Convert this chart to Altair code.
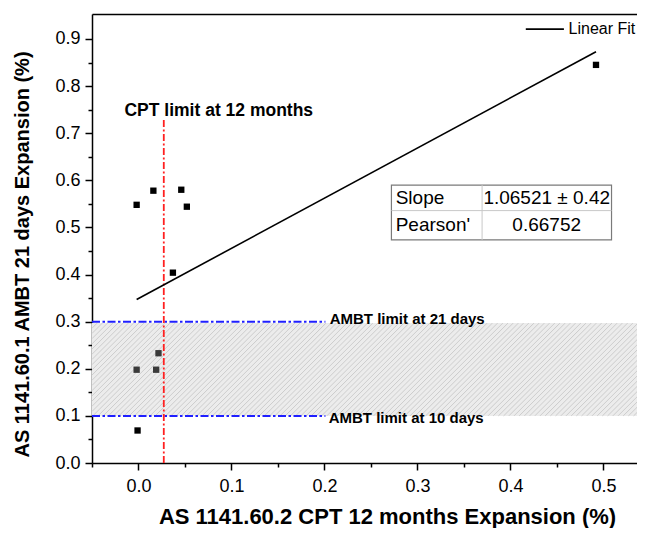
import altair as alt
import pandas as pd

# ---- data ----
cpt_x = [-0.002, 0.016, 0.046, 0.052, 0.037, 0.0215, -0.002, 0.019, -0.001, 0.492]
ambt_y = [0.548, 0.578, 0.580, 0.544, 0.404, 0.233, 0.198, 0.198, 0.069, 0.845]

fit_x = [-0.002, 0.492]
fit_y = [0.347, 0.873]

ambt_limits = [0.3, 0.1]
ambt_labels = ["AMBT limit at 21 days", "AMBT limit at 10 days"]
band = [0.1, 0.297]
cpt_limit = 0.0272
cpt_label = "CPT limit at 12 months"

table_rows = ["Slope", "Pearson'"]
table_vals = ["1.06521 \u00b1 0.42", "0.66752"]

x_ticks = [0.0, 0.1, 0.2, 0.3, 0.4, 0.5]
x_minor = [-0.05, 0.05, 0.15, 0.25, 0.35, 0.45]
y_ticks = [0.0, 0.1, 0.2, 0.3, 0.4, 0.5, 0.6, 0.7, 0.8, 0.9]
y_minor = [0.05, 0.15, 0.25, 0.35, 0.45, 0.55, 0.65, 0.75, 0.85]

# ---- layout ----
W, H = 553, 449
XD = [-0.05, 0.5447]
YD = [0.0, 0.953]
FONT = "Liberation Sans"

xs = alt.Scale(domain=XD, nice=False, zero=False)
ys = alt.Scale(domain=YD, nice=False, zero=False)
NOAX = None

# ---- frames ----
pts = pd.DataFrame({"x": cpt_x, "y": ambt_y})
pts["shade"] = ["#3a3a3a" if band[0] <= v <= band[1] else "#000000" for v in ambt_y]

fit = pd.DataFrame({"x": fit_x, "y": fit_y})

# hatch lines (decoration of the limit band), computed in pixel space so they are 45 degrees
kx = W / (XD[1] - XD[0])
ky = H / (YD[1] - YD[0])
bw = W
bh = (band[1] - band[0]) * ky
step = 5.2
rows = []
c = -bh
while c < bw:
    xa = max(0.0, c)
    xb = min(bw, c + bh)
    if xb > xa:
        rows.append({
            "x": XD[0] + xa / kx, "y": band[0] + (xa - c) / ky,
            "x2": XD[0] + xb / kx, "y2": band[0] + (xb - c) / ky,
        })
    c += step
hatch = pd.DataFrame(rows)

band_df = pd.DataFrame({"x": [XD[0]], "x2": [XD[1]], "y": [band[0]], "y2": [band[1]]})

limits_df = pd.DataFrame({"y": ambt_limits, "x": [XD[0]] * 2, "x2": [0.201] * 2,
                          "label": ambt_labels, "ly": [0.3057, 0.0949], "lx": [0.2056, 0.2045]})

cpt_df = pd.DataFrame({"x": [cpt_limit], "y": [0.0], "y2": [0.732]})
cpt_txt = pd.DataFrame({"x": [-0.0151], "y": [0.747], "label": [cpt_label]})

leg_line = pd.DataFrame({"x": [0.4165], "x2": [0.4575], "y": [0.921]})
leg_txt = pd.DataFrame({"x": [0.4625], "y": [0.921], "label": ["Linear Fit"]})

tab_box = pd.DataFrame({"x": [0.272], "x2": [0.5087], "y": [0.4735], "y2": [0.590]})
tab_h = pd.DataFrame({"x": [0.272], "x2": [0.5087], "y": [0.5357]})
tab_v = pd.DataFrame({"x": [0.3695], "y": [0.4735], "y2": [0.590]})
tab_txt = pd.DataFrame({
    "x": [0.2766, 0.2766, 0.439, 0.439],
    "y": [0.5629, 0.5046, 0.5629, 0.5046],
    "label": table_rows + table_vals,
    "align": ["left", "left", "center", "center"],
})

# ---- layers ----
band_layer = alt.Chart(band_df).mark_rect(fill="#ececec").encode(
    x=alt.X("x:Q", scale=xs, axis=NOAX), x2="x2", y=alt.Y("y:Q", scale=ys, axis=NOAX), y2="y2")

hatch_layer = alt.Chart(hatch).mark_rule(color="#c2c2c2", strokeWidth=0.75).encode(
    x=alt.X("x:Q", scale=xs, axis=NOAX), x2="x2", y=alt.Y("y:Q", scale=ys, axis=NOAX), y2="y2")

blue_layer = alt.Chart(limits_df).mark_rule(color="#1f1fff", strokeWidth=2,
                                            strokeDash=[8, 2.5, 2.5, 2.5]).encode(
    x=alt.X("x:Q", scale=xs, axis=NOAX), x2="x2", y=alt.Y("y:Q", scale=ys, axis=NOAX))

blue_txt = alt.Chart(limits_df).mark_text(align="left", baseline="middle", font=FONT,
                                          fontSize=15, fontWeight="bold", color="black").encode(
    x=alt.X("lx:Q", scale=xs, axis=NOAX), y=alt.Y("ly:Q", scale=ys, axis=NOAX), text="label")

red_layer = alt.Chart(cpt_df).mark_rule(color="#ff2020", strokeWidth=1.8,
                                        strokeDash=[7, 2.5, 2, 2.5]).encode(
    x=alt.X("x:Q", scale=xs, axis=NOAX), y=alt.Y("y:Q", scale=ys, axis=NOAX), y2="y2")

red_txt = alt.Chart(cpt_txt).mark_text(align="left", baseline="middle", font=FONT,
                                       fontSize=17.5, fontWeight="bold", color="black").encode(
    x=alt.X("x:Q", scale=xs, axis=NOAX), y=alt.Y("y:Q", scale=ys, axis=NOAX), text="label")

fit_layer = alt.Chart(fit).mark_line(color="black", strokeWidth=1.6).encode(
    x=alt.X("x:Q", scale=xs, axis=NOAX), y=alt.Y("y:Q", scale=ys, axis=NOAX))

# main points with main axes
points = alt.Chart(pts).mark_square(size=40, opacity=1).encode(
    x=alt.X("x:Q", scale=xs, axis=alt.Axis(
        orient="bottom", values=x_ticks, format=".1f", grid=False,
        labelFont=FONT, labelFontSize=18, labelColor="black", labelPadding=7,
        labelFlush=False, labelOverlap=False,
        tickSize=7, tickColor="black", tickWidth=1.5,
        domainColor="black", domainWidth=1.5,
        title="AS 1141.60.2 CPT 12 months Expansion (%)", titleFont=FONT,
        titleFontSize=22, titleFontWeight="bold", titleColor="black",
        titleX=295, titleY=53, titleAlign="center", titleBaseline="middle")),
    y=alt.Y("y:Q", scale=ys, axis=alt.Axis(
        orient="left", values=y_ticks, format=".1f", grid=False,
        labelFont=FONT, labelFontSize=18, labelColor="black", labelPadding=5,
        labelFlush=False, labelOverlap=False,
        tickSize=7, tickColor="black", tickWidth=1.5,
        domainColor="black", domainWidth=1.5,
        title="AS 1141.60.1 AMBT 21 days Expansion (%)", titleFont=FONT,
        titleFontSize=20, titleFontWeight="bold", titleColor="black",
        titleX=-70, titleY=240, titleAlign="center", titleBaseline="middle", titleAngle=270)),
    color=alt.Color("shade:N", scale=None),
)

# minor ticks
minor = alt.Chart(pts).mark_point(opacity=0).encode(
    x=alt.X("x:Q", scale=xs, axis=alt.Axis(
        orient="bottom", values=x_minor, labels=False, grid=False, domain=False,
        tickSize=4, tickColor="black", tickWidth=1.5, title=None)),
    y=alt.Y("y:Q", scale=ys, axis=alt.Axis(
        orient="left", values=y_minor, labels=False, grid=False, domain=False,
        tickSize=4, tickColor="black", tickWidth=1.5, title=None)),
)

# top frame line
top = alt.Chart(pts).mark_point(opacity=0).encode(
    x=alt.X("x:Q", scale=xs, axis=alt.Axis(
        orient="top", labels=False, ticks=False, grid=False, domain=True,
        domainColor="black", domainWidth=1.5, title=None)),
    y=alt.Y("y:Q", scale=ys, axis=NOAX),
)

leg_l = alt.Chart(leg_line).mark_rule(color="black", strokeWidth=1.6).encode(
    x=alt.X("x:Q", scale=xs, axis=NOAX), x2="x2", y=alt.Y("y:Q", scale=ys, axis=NOAX))
leg_t = alt.Chart(leg_txt).mark_text(align="left", baseline="middle", font=FONT,
                                     fontSize=16, color="black").encode(
    x=alt.X("x:Q", scale=xs, axis=NOAX), y=alt.Y("y:Q", scale=ys, axis=NOAX), text="label")

tbox = alt.Chart(tab_box).mark_rect(fill="white", stroke="#7a7a7a", strokeWidth=1.2).encode(
    x=alt.X("x:Q", scale=xs, axis=NOAX), x2="x2", y=alt.Y("y:Q", scale=ys, axis=NOAX), y2="y2")
th = alt.Chart(tab_h).mark_rule(color="#c8c8c8", strokeWidth=1).encode(
    x=alt.X("x:Q", scale=xs, axis=NOAX), x2="x2", y=alt.Y("y:Q", scale=ys, axis=NOAX))
tv = alt.Chart(tab_v).mark_rule(color="#c8c8c8", strokeWidth=1).encode(
    x=alt.X("x:Q", scale=xs, axis=NOAX), y=alt.Y("y:Q", scale=ys, axis=NOAX), y2="y2")
ttxt_l = alt.Chart(tab_txt[tab_txt["align"] == "left"]).mark_text(
    align="left", baseline="middle", font=FONT, fontSize=19, color="black").encode(
    x=alt.X("x:Q", scale=xs, axis=NOAX), y=alt.Y("y:Q", scale=ys, axis=NOAX), text="label")
ttxt_c = alt.Chart(tab_txt[tab_txt["align"] == "center"]).mark_text(
    align="center", baseline="middle", font=FONT, fontSize=19, color="black").encode(
    x=alt.X("x:Q", scale=xs, axis=NOAX), y=alt.Y("y:Q", scale=ys, axis=NOAX), text="label")

chart = alt.layer(
    band_layer, hatch_layer, blue_layer, blue_txt, red_layer, red_txt, fit_layer,
    points, minor, top, leg_l, leg_t, tbox, th, tv, ttxt_l, ttxt_c,
).resolve_axis(x="independent", y="independent").properties(
    width=W, height=H,
    autosize=alt.AutoSizeParams(type="none"),
    padding={"left": 84, "top": 6, "right": -8, "bottom": 65},
    background="white",
).configure_view(stroke=None)

chart.save("out.html", embed_options={"renderer": "svg", "actions": False})
